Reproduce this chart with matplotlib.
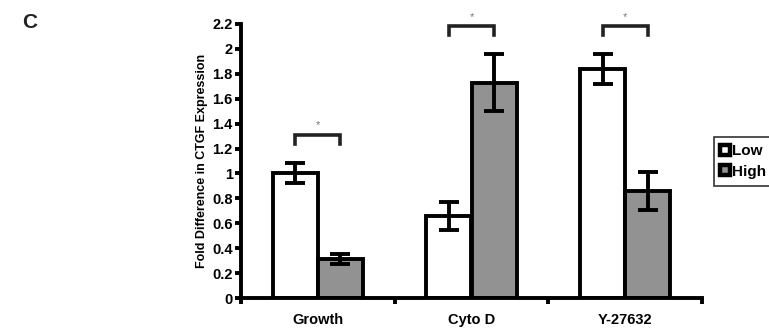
import numpy as np
import matplotlib
matplotlib.use("Agg")
import matplotlib.pyplot as plt
from matplotlib.lines import Line2D

# data
categories = ["Growth", "Cyto D", "Y-27632"]
low_vals = [1.00, 0.66, 1.84]
low_err = [0.08, 0.11, 0.12]
high_vals = [0.31, 1.73, 0.86]
high_err = [0.04, 0.23, 0.15]
series_names = ["Low", "High"]
yticks = [0, 0.2, 0.4, 0.6, 0.8, 1, 1.2, 1.4, 1.6, 1.8, 2, 2.2]
ytick_labels = ["0", "0.2", "0.4", "0.6", "0.8", "1", "1.2", "1.4", "1.6", "1.8", "2", "2.2"]
bracket_y = [1.31, 2.18, 2.18]

plt.rcParams['font.family'] = ['Liberation Sans', 'DejaVu Sans']

fig = plt.figure(figsize=(7.69, 3.32), dpi=100)
fig.patch.set_facecolor('white')
ax = fig.add_axes([241/769, 1 - 298/332, (702 - 241)/769, 274/332])

gray = '#929292'
w = 0.295
x = np.arange(len(categories)) + 0.5
lw = 2.8

ax.bar(x - w/2, low_vals, w, color='white', edgecolor='black', linewidth=lw, zorder=2)
ax.bar(x + w/2, high_vals, w, color=gray, edgecolor='black', linewidth=lw, zorder=2)
ax.errorbar(x - w/2, low_vals, yerr=low_err, fmt='none', ecolor='black',
            elinewidth=lw, capsize=7, capthick=lw, zorder=3)
ax.errorbar(x + w/2, high_vals, yerr=high_err, fmt='none', ecolor='black',
            elinewidth=lw, capsize=7, capthick=lw, zorder=3)

# significance brackets
for xi, by in zip(x, bracket_y):
    x0, x1 = xi - w/2, xi + w/2
    ax.plot([x0, x0, x1, x1], [by - 0.07, by, by, by - 0.07], color='#222222',
            lw=2.6, solid_joinstyle='miter', clip_on=False, zorder=3)
    ax.text(xi, by + 0.035, '*', ha='center', va='bottom', fontsize=8,
            color='#777777')

ax.set_xlim(0, 3)
ax.set_ylim(0, 2.2)
ax.set_yticks(yticks)
ax.set_yticklabels(ytick_labels, fontsize=10.5, fontweight='bold')
ax.set_xticks([0, 1, 2, 3])
ax.set_xticklabels([])
ax.set_xticks(x, minor=True)
ax.set_xticklabels(categories, minor=True, fontsize=10.5, fontweight='bold')
ax.tick_params(axis='x', which='minor', length=0, pad=11)
ax.tick_params(axis='x', which='major', length=4, width=lw, direction='out')
ax.tick_params(axis='y', length=4, width=lw, direction='out', pad=2)
ax.set_ylabel('Fold Difference in CTGF Expression', fontsize=9,
              fontweight='bold', labelpad=3)

for s in ['top', 'right']:
    ax.spines[s].set_visible(False)
for s in ['left', 'bottom']:
    ax.spines[s].set_linewidth(lw)

# legend: small squares with a thick black border
handles = [
    Line2D([], [], ls='none', marker='s', markersize=7, markerfacecolor='white',
           markeredgecolor='black', markeredgewidth=3.2),
    Line2D([], [], ls='none', marker='s', markersize=7, markerfacecolor=gray,
           markeredgecolor='black', markeredgewidth=3.2),
]
leg = fig.legend(handles, series_names, loc='upper left',
                 bbox_to_anchor=(714/769, 1 - 137/332), frameon=True,
                 fancybox=False, edgecolor='black', handlelength=0.5,
                 handletextpad=0.25, borderpad=0.45, labelspacing=0.45,
                 borderaxespad=0, prop={'weight': 'bold', 'size': 11})
leg.get_frame().set_linewidth(1.2)

fig.text(22/769, 1 - 22/332, 'C', fontsize=15, fontweight='bold',
         ha='left', va='center', color='#222222')

fig.savefig('out.png', dpi=100, facecolor='white')
